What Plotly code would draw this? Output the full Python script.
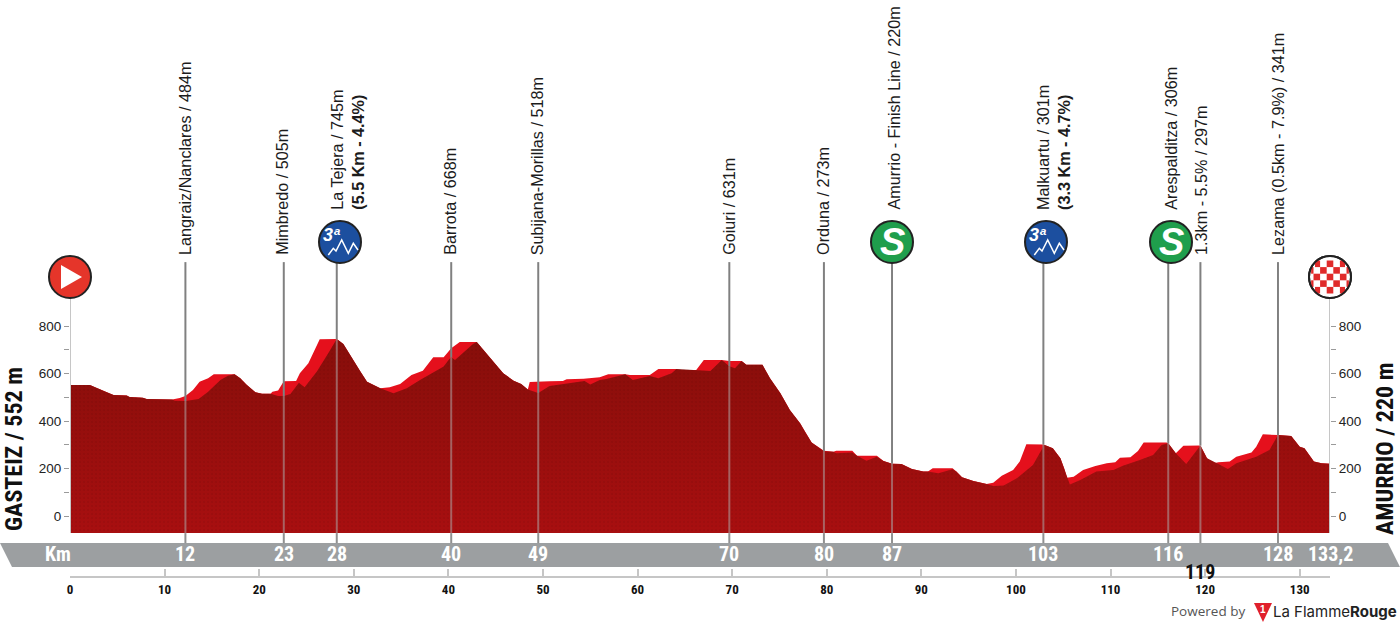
import math

import plotly.graph_objects as go

# Stage profile: kilometres and metres for the gradient outline and the road itself
UPPER_KM = [0, 2.1, 3.0, 3.9, 4.6, 6.0, 6.3, 7.7, 8.1, 10.8, 11.6, 12.2, 13.0, 13.7, 14.6, 15.2, 17.4, 18.0, 18.7, 19.6,
            20.3, 21.2, 21.4, 22.0, 22.6, 23.9, 24.3, 25.2, 26.4, 28.2, 28.9, 29.8, 30.7, 31.4, 32.1, 32.8, 33.8, 34.9,
            36.1, 37.3, 38.4, 39.5, 40.3, 41.2, 43.0, 44.0, 45.8, 46.9, 47.7, 48.4, 48.6, 50.7, 52.1, 52.5, 54.3, 56.0,
            56.9, 58.7, 59.2, 61.3, 62.2, 64.1, 64.5, 66.2, 67.0, 68.9, 69.7, 71.0, 71.5, 73.2, 74.0, 75.1, 76.1, 77.2,
            77.7, 78.4, 79.7, 80.7, 81.0, 82.7, 83.2, 85.3, 86.0, 86.9, 87.9, 89.0, 90.2, 90.7, 91.2, 93.3, 93.7, 94.3,
            95.5, 96.9, 97.6, 98.5, 99.7, 100.4, 101.1, 102.9, 103.9, 104.7, 105.1, 105.4, 106.1, 107.1, 108.4, 109.6,
            110.5, 111.0, 112.1, 112.9, 113.5, 115.9, 116.1, 116.9, 117.7, 119.4, 119.5, 120.2, 120.9, 121.4, 122.6,
            123.3, 124.9, 125.4, 126.1, 127.7, 129.1, 130.0, 130.5, 131.5, 132.3, 133.2]
UPPER_M = [552, 552, 538, 521, 509, 507, 501, 498, 493, 491, 497, 505, 531, 565, 580, 597, 597, 580, 552, 521,
           515, 515, 523, 528, 567, 568, 601, 643, 744, 745, 724, 664, 608, 565, 552, 538, 542, 556,
           594, 612, 668, 668, 706, 733, 733, 685, 601, 570, 556, 533, 564, 567, 568, 576, 578, 584,
           597, 597, 594, 594, 619, 619, 615, 615, 657, 657, 653, 653, 637, 637, 580, 517, 446, 390,
           355, 309, 275, 271, 275, 275, 254, 254, 232, 220, 219, 198, 187, 187, 201, 201, 187, 163,
           147, 135, 140, 170, 194, 229, 302, 301, 285, 243, 201, 161, 165, 194, 211, 222,
           226, 245, 247, 274, 310, 310, 306, 264, 296, 296, 297, 243, 222, 226, 229,
           250, 267, 292, 344, 341, 337, 292, 285, 229, 222, 220]
ROAD_KM = [0, 2.1, 3.0, 3.9, 4.6, 6.0, 6.3, 7.7, 8.1, 10.8, 11.1, 12.2, 13.6, 14.6, 15.9, 16.7, 17.4, 18.0, 18.7, 19.6,
           20.3, 21.2, 22.0, 22.6, 23.3, 24.2, 24.8, 26.1, 27.3, 28.2, 28.9, 29.8, 30.7, 31.4, 32.1, 32.8, 34.2, 35.6,
           37.0, 39.5, 40.1, 40.3, 40.7, 42.6, 43.0, 44.0, 45.8, 46.9, 47.7, 48.4, 49.5, 50.7, 52.1, 54.4, 55.0, 56.0,
           56.7, 58.7, 59.5, 61.3, 62.2, 63.6, 64.1, 66.2, 67.7, 68.9, 69.7, 70.3, 71.0, 71.5, 73.2, 74.0, 75.1, 76.1,
           77.2, 77.7, 78.4, 79.7, 80.7, 81.0, 82.7, 83.2, 84.2, 85.3, 86.0, 86.9, 87.9, 89.0, 90.2, 90.7, 91.8, 93.3,
           93.7, 94.3, 95.5, 96.9, 97.6, 98.7, 100.1, 101.8, 102.8, 102.9, 103.9, 104.7, 105.1, 105.4, 105.7, 106.8,
           108.5, 110.3, 111.3, 113.1, 114.5, 115.4, 116.1, 116.9, 118.0, 119.5, 120.2, 121.4, 122.4, 123.3, 125.4,
           126.8, 127.7, 129.1, 130.0, 130.5, 131.5, 132.3, 133.2]
ROAD_M = [552, 552, 538, 521, 509, 507, 501, 498, 493, 491, 485, 484, 493, 523, 573, 591, 597, 580, 552, 521,
          515, 515, 505, 505, 514, 561, 542, 608, 685, 745, 724, 664, 608, 565, 552, 538, 517, 538,
          573, 629, 661, 668, 657, 724, 733, 685, 601, 570, 556, 533, 518, 547, 556, 568, 554, 573,
          577, 597, 573, 589, 580, 601, 619, 613, 611, 657, 631, 622, 653, 637, 637, 580, 517, 446,
          390, 355, 309, 273, 271, 264, 267, 254, 233, 250, 232, 220, 219, 198, 187, 187, 180, 197,
          187, 163, 147, 135, 126, 128, 159, 215, 285, 301, 285, 243, 201, 161, 133, 152,
          187, 194, 212, 236, 257, 299, 306, 264, 219, 297, 243, 219, 198, 222, 250,
          278, 341, 337, 292, 285, 229, 222, 220]

# Passing points along the route
STOP_KM = [12.2, 22.6, 28.2, 40.3, 49.5, 69.7, 79.7, 86.9, 102.9, 116.1, 119.5, 127.7]
STOP_M = [484, 505, 745, 668, 518, 631, 273, 220, 301, 306, 297, 341]
STOP_TEXT = ["Langraiz/Nanclares / 484m", "Mimbredo / 505m", "La Tejera / 745m<br><b>(5.5 Km - 4.4%)</b>",
             "Barrota / 668m", "Subijana-Morillas / 518m", "Goiuri / 631m", "Orduna / 273m",
             "Amurrio - Finish Line / 220m", "Malkuartu / 301m<br><b>(3.3 Km - 4.7%)</b>", "Arespalditza / 306m",
             "1.3km - 5.5% / 297m", "Lezama (0.5km - 7.9%) / 341m"]
STOP_TICK = ["12", "23", "28", "40", "49", "70", "80", "87", "103", "116", "119", "128"]
STOP_SHIFT = [-1, -2, 11, -2, -1, -1, -1, 2, 10, 3, 0, 0]
STOP_RAISED = [False, False, True, False, False, False, False, True, True, True, False, False]

ELEV_TICKS = [0, 100, 200, 300, 400, 500, 600, 700, 800]
ELEV_TEXT = ["0", "", "200", "", "400", "", "600", "", "800"]
KM_TICKS = [0, 10, 20, 30, 40, 50, 60, 70, 80, 90, 100, 110, 120, 130, 133.2]
KM_TEXT = ["0", "10", "20", "30", "40", "50", "60", "70", "80", "90", "100", "110", "120", "130", ""]

FINISH_KM = 133.2
BASE_M = -72
AXIS_TOP_M = 918
STEM_TOP_M = 1069
BAND_TOP_M = -114

W, H = 1400, 628
PX_PER_M = 0.2375
Y0_PX = 516
NARROW = "Roboto Condensed, DejaVu Sans Condensed, Liberation Sans Narrow, Liberation Sans, sans-serif"
SANS = "Liberation Sans, Arial, sans-serif"
INK = "#1c1c1c"
GREY = "#808080"
ROAD_GRADIENT = [[0, "#a80f10"], [1, "#860e0a"]]


def fx(px):
    return px / W


def fy(py):
    return 1 - py / H


yrange = [(Y0_PX - H) / PX_PER_M, Y0_PX / PX_PER_M]
fig = go.Figure()

# Area fills, closed along the floor of the profile
fig.add_trace(go.Scatter(x=[0] + UPPER_KM + [FINISH_KM], y=[BASE_M] + UPPER_M + [BASE_M],
                         mode="lines", line=dict(width=0), fill="toself", fillcolor="#e5101c",
                         hoverinfo="skip"))
fig.add_trace(go.Scatter(x=[0] + ROAD_KM + [FINISH_KM], y=[BASE_M] + ROAD_M + [BASE_M],
                         mode="lines", line=dict(width=0), fill="toself",
                         fillgradient=dict(type="vertical", colorscale=ROAD_GRADIENT, start=BASE_M, stop=760),
                         hoverinfo="skip"))
# Fine speckle over the road fill
fig.add_trace(go.Scatter(x=[0] + ROAD_KM + [FINISH_KM], y=[BASE_M] + ROAD_M + [BASE_M],
                         mode="lines", line=dict(width=0), fill="toself", fillcolor="rgba(0,0,0,0)",
                         fillpattern=dict(shape=".", size=4, solidity=0.3, fgcolor="rgba(50,0,0,0.13)",
                                          bgcolor="rgba(0,0,0,0)", fillmode="overlay"),
                         hoverinfo="skip"))


def stems(lo, hi):
    xs, ys = [], []
    for i, k in enumerate(STOP_KM):
        xs += [k, k, None]
        ys += [lo(i), hi(i), None]
    return xs, ys


# Each stem has three parts: over the sky, through the fill, and down to the distance band
for lo, hi, colour in [
    (lambda i: STOP_M[i], lambda i: STEM_TOP_M, GREY),
    (lambda i: BASE_M, lambda i: STOP_M[i], "rgba(172,150,150,0.62)"),
    (lambda i: BAND_TOP_M, lambda i: BASE_M, "#909090"),
]:
    xs, ys = stems(lo, hi)
    fig.add_trace(go.Scatter(x=xs, y=ys, mode="lines", line=dict(color=colour, width=2), hoverinfo="skip",
                             cliponaxis=False))

# Elevation rules at the start and the finish
fig.add_trace(go.Scatter(x=[0, 0], y=[BASE_M, AXIS_TOP_M], mode="lines", line=dict(color="#c6c6c6", width=2),
                         cliponaxis=False, hoverinfo="skip"))
fig.add_trace(go.Scatter(x=[FINISH_KM, FINISH_KM], y=[BASE_M, AXIS_TOP_M], yaxis="y2", mode="lines",
                         line=dict(color="#c6c6c6", width=2), cliponaxis=False, hoverinfo="skip"))

shapes = []
annotations = []


def note(text, px, py, size, colour=INK, family=SANS, angle=0):
    annotations.append(dict(text=text, xref="paper", yref="paper", x=fx(px), y=fy(py), showarrow=False,
                            xanchor="center", yanchor="middle", textangle=angle,
                            font=dict(size=size, color=colour, family=family)))


def on_track(text, km, py, size, colour):
    annotations.append(dict(text=text, xref="x", yref="paper", x=km, y=fy(py), showarrow=False,
                            xanchor="center", yanchor="middle", font=dict(size=size, color=colour, family=NARROW)))


def disc(cx, cy, fill):
    shapes.append(dict(type="circle", xref="paper", yref="paper", x0=fx(cx - 21), x1=fx(cx + 21),
                       y0=fy(cy + 21), y1=fy(cy - 21), fillcolor=fill, line=dict(color="#222222", width=2)))


def polyline(cx, cy, pts, closed=False, **style):
    d = "M " + " L ".join(f"{fx(cx + a):.5f} {fy(cy + b):.5f}" for a, b in pts)
    shapes.append(dict(type="path", xref="paper", yref="paper", path=d + (" Z" if closed else ""), **style))


# Distance band
polyline(0, 0, [(0, 543), (1388, 543), (1400, 567), (12, 567)], closed=True, fillcolor="#9c9fa1",
         line=dict(width=0), layer="below")

# Category badges
MOUNTAIN = [(-11.7, 15), (-6.7, 8.3), (-4, 11), (1.7, 0), (8.3, 13.3), (13.3, 3.3), (18, 10)]


def climb_badge(cx, cy):
    disc(cx, cy, "#1c4f9f")
    polyline(cx, cy - 2, MOUNTAIN, line=dict(color="white", width=1.5))
    note("<b><i>3ª</i></b>", cx - 8, cy - 7, 18, "white")


def sprint_badge(cx, cy):
    disc(cx, cy, "#1f9e4c")
    note("<b><i>S</i></b>", cx, cy, 38, "white")


climb_badge(340, 242)
sprint_badge(892, 242)
climb_badge(1046, 242)
sprint_badge(1171, 242)

# Start badge
disc(70, 277, "#e5352a")
polyline(70, 277, [(-9, -12), (12, 0), (-9, 12)], closed=True, fillcolor="white", line=dict(width=0))

# Finish badge: chequered disc, cells trimmed to the rim
disc(1330, 277, "white")
CELL = 6.6
RIM = 20
for r in range(-3, 4):
    for c in range(-3, 4):
        if (r + c) % 2:
            continue
        mid = abs(r) * CELL
        if mid >= RIM:
            continue
        half = math.sqrt(RIM * RIM - mid * mid)
        x0 = max((c - .5) * CELL, -half)
        x1 = min((c + .5) * CELL, half)
        if x1 > x0:
            shapes.append(dict(type="rect", xref="paper", yref="paper", fillcolor="#e02a2a", line=dict(width=0),
                               x0=fx(1330 + x0), x1=fx(1330 + x1),
                               y0=fy(277 + (r + .5) * CELL), y1=fy(277 + (r - .5) * CELL)))
shapes.append(dict(type="circle", xref="paper", yref="paper", x0=fx(1309), x1=fx(1351), y0=fy(298), y1=fy(256),
                   fillcolor="rgba(0,0,0,0)", line=dict(color="#222222", width=2)))

# Stop names
for k, text, shift, raised in zip(STOP_KM, STOP_TEXT, STOP_SHIFT, STOP_RAISED):
    annotations.append(dict(text=text, xref="x", yref="paper", x=k, y=fy(212 if raised else 257), xshift=shift,
                            showarrow=False, textangle=-90, xanchor="center", yanchor="bottom", align="left",
                            font=dict(size=16.2, color=INK, family=SANS)))

# Distance band labels
note("<b>Km</b>", 58, 554, 20, "white", NARROW)
for k, tick in zip(STOP_KM, STOP_TICK):
    if tick == "119":
        on_track("<b>119</b>", k, 572, 20, "#111111")
    else:
        on_track(f"<b>{tick}</b>", k, 554, 20, "white")
on_track("<b>133,2</b>", FINISH_KM, 554, 20, "white")

# Start and finish names
note("<b>GASTEIZ / 552 m</b>", 14, 449, 24, "#111111", NARROW, angle=-90)
note("<b>AMURRIO / 220 m</b>", 1385, 449, 24, "#111111", NARROW, angle=-90)

# Footer credit
note("Powered by", 1208, 611, 13.5, "#555555", "Open Sans, sans-serif")
polyline(0, 0, [(1254, 603), (1272, 603), (1263, 622)], closed=True, fillcolor="#e0202c", line=dict(width=0))
note("<b>1</b>", 1263, 609, 10, "white")
note('La Flamme<b>Rouge</b>', 1335, 611, 15, "#222222", "Inter, sans-serif")

fig.update_layout(
    width=W, height=H, autosize=False, margin=dict(l=0, r=0, t=0, b=0, autoexpand=False),
    paper_bgcolor="white", plot_bgcolor="rgba(0,0,0,0)", showlegend=False,
    shapes=shapes, annotations=annotations,
    xaxis=dict(domain=[70 / W, 1330 / W], range=[0, FINISH_KM], anchor="free", position=fy(577),
               tickmode="array", tickvals=KM_TICKS, ticktext=[f"<b>{t}</b>" if t else "" for t in KM_TEXT],
               ticks="inside", ticklen=7, tickwidth=2,
               tickcolor="#c6c6c6", showline=True, linecolor="#c6c6c6", linewidth=2, showgrid=False, zeroline=False,
               tickfont=dict(size=13, color="#111111", family=NARROW)),
    yaxis=dict(domain=[0, 1], range=yrange, anchor="x", side="left", tickmode="array", tickvals=ELEV_TICKS,
               ticktext=ELEV_TEXT, ticks="outside", ticklen=5, tickwidth=1, tickcolor="#9a9a9a", showline=False,
               showgrid=False, zeroline=False, tickfont=dict(size=13.5, color="#222222", family=SANS)),
    yaxis2=dict(domain=[0, 1], range=yrange, anchor="x", overlaying="y", side="right", tickmode="array",
                tickvals=ELEV_TICKS, ticktext=ELEV_TEXT, ticks="outside", ticklen=5, tickwidth=1,
                tickcolor="#9a9a9a", showline=False, showgrid=False, zeroline=False,
                tickfont=dict(size=13.5, color="#222222", family=SANS)),
)

fig.write_html("out.html")
